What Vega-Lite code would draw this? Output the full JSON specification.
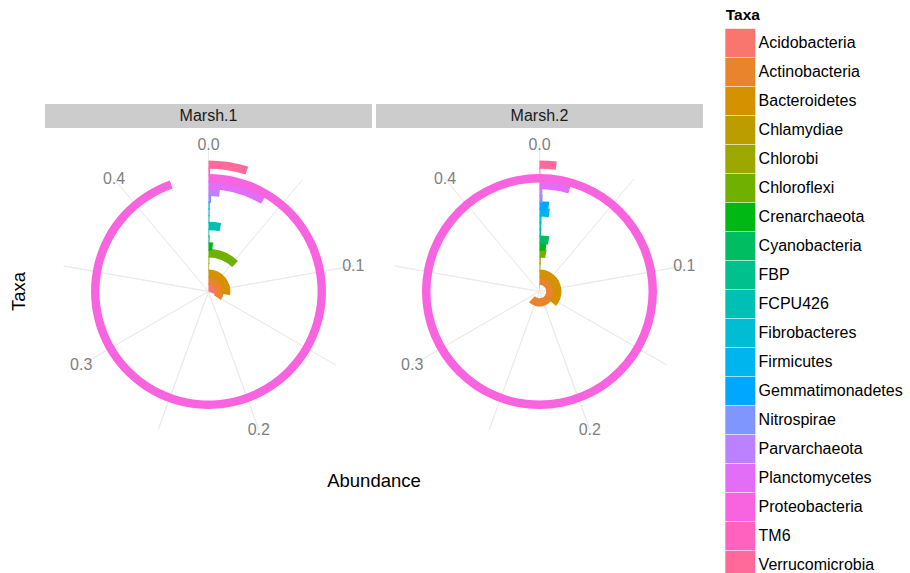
{
  "$schema": "https://vega.github.io/schema/vega-lite/v6.json",
  "autosize": {"type": "pad"},
  "padding": {"left": 9, "top": 8, "right": 0, "bottom": 0},
  "config": {"font": "Liberation Sans", "view": {"stroke": null}},
  "datasets": {
    "taxa": [
      {"Marsh": "Marsh.1", "Taxa": "Acidobacteria", "Abundance": 0.14},
      {"Marsh": "Marsh.1", "Taxa": "Actinobacteria", "Abundance": 0.155},
      {"Marsh": "Marsh.1", "Taxa": "Bacteroidetes", "Abundance": 0.125},
      {"Marsh": "Marsh.1", "Taxa": "Chlamydiae", "Abundance": 0.002},
      {"Marsh": "Marsh.1", "Taxa": "Chlorobi", "Abundance": 0.002},
      {"Marsh": "Marsh.1", "Taxa": "Chloroflexi", "Abundance": 0.055},
      {"Marsh": "Marsh.1", "Taxa": "Crenarchaeota", "Abundance": 0.0066},
      {"Marsh": "Marsh.1", "Taxa": "Cyanobacteria", "Abundance": 0.0015},
      {"Marsh": "Marsh.1", "Taxa": "FBP", "Abundance": 0.001},
      {"Marsh": "Marsh.1", "Taxa": "FCPU426", "Abundance": 0.013},
      {"Marsh": "Marsh.1", "Taxa": "Fibrobacteres", "Abundance": 0.001},
      {"Marsh": "Marsh.1", "Taxa": "Firmicutes", "Abundance": 0.001},
      {"Marsh": "Marsh.1", "Taxa": "Gemmatimonadetes", "Abundance": 0.001},
      {"Marsh": "Marsh.1", "Taxa": "Nitrospirae", "Abundance": 0.002},
      {"Marsh": "Marsh.1", "Taxa": "Parvarchaeota", "Abundance": 0.008},
      {"Marsh": "Marsh.1", "Taxa": "Planctomycetes", "Abundance": 0.0386},
      {"Marsh": "Marsh.1", "Taxa": "Proteobacteria", "Abundance": 0.426},
      {"Marsh": "Marsh.1", "Taxa": "TM6", "Abundance": 0.001},
      {"Marsh": "Marsh.1", "Taxa": "Verrucomicrobia", "Abundance": 0.022},
      {"Marsh": "Marsh.2", "Taxa": "Acidobacteria", "Abundance": 0.0075},
      {"Marsh": "Marsh.2", "Taxa": "Actinobacteria", "Abundance": 0.28},
      {"Marsh": "Marsh.2", "Taxa": "Bacteroidetes", "Abundance": 0.164},
      {"Marsh": "Marsh.2", "Taxa": "Chlamydiae", "Abundance": 0.003},
      {"Marsh": "Marsh.2", "Taxa": "Chlorobi", "Abundance": 0.003},
      {"Marsh": "Marsh.2", "Taxa": "Chloroflexi", "Abundance": 0.012},
      {"Marsh": "Marsh.2", "Taxa": "Crenarchaeota", "Abundance": 0.0104},
      {"Marsh": "Marsh.2", "Taxa": "Cyanobacteria", "Abundance": 0.0127},
      {"Marsh": "Marsh.2", "Taxa": "FBP", "Abundance": 0.002},
      {"Marsh": "Marsh.2", "Taxa": "FCPU426", "Abundance": 0.002},
      {"Marsh": "Marsh.2", "Taxa": "Fibrobacteres", "Abundance": 0.002},
      {"Marsh": "Marsh.2", "Taxa": "Firmicutes", "Abundance": 0.0089},
      {"Marsh": "Marsh.2", "Taxa": "Gemmatimonadetes", "Abundance": 0.0077},
      {"Marsh": "Marsh.2", "Taxa": "Nitrospirae", "Abundance": 0.0023},
      {"Marsh": "Marsh.2", "Taxa": "Parvarchaeota", "Abundance": 0.002},
      {"Marsh": "Marsh.2", "Taxa": "Planctomycetes", "Abundance": 0.0205},
      {"Marsh": "Marsh.2", "Taxa": "Proteobacteria", "Abundance": 0.45},
      {"Marsh": "Marsh.2", "Taxa": "TM6", "Abundance": 0.0005},
      {"Marsh": "Marsh.2", "Taxa": "Verrucomicrobia", "Abundance": 0.0095}
    ],
    "grid": [
      {"v": 0}, {"v": 0.05}, {"v": 0.1}, {"v": 0.15}, {"v": 0.2},
      {"v": 0.25}, {"v": 0.3}, {"v": 0.35}, {"v": 0.4}
    ],
    "ticks": [
      {"v": 0, "label": "0.0"}, {"v": 0.1, "label": "0.1"}, {"v": 0.2, "label": "0.2"},
      {"v": 0.3, "label": "0.3"}, {"v": 0.4, "label": "0.4"}
    ]
  },
  "columns": 2,
  "spacing": {"row": 0, "column": 4},
  "bounds": "flush",
  "concat": [
    {
      "data": {"values": [{"Marsh": "Marsh.1"}]},
      "width": 327, "height": 24,
      "view": {"fill": "#CCCCCC", "stroke": null},
      "mark": {"type": "text", "fontSize": 16, "color": "#1A1A1A"},
      "encoding": {"text": {"field": "Marsh", "type": "nominal"}}
    },
    {
      "data": {"values": [{"Marsh": "Marsh.2"}]},
      "width": 327, "height": 24,
      "view": {"fill": "#CCCCCC", "stroke": null},
      "mark": {"type": "text", "fontSize": 16, "color": "#1A1A1A"},
      "encoding": {"text": {"field": "Marsh", "type": "nominal"}}
    },
    {
      "width": 327, "height": 327,
      "title": {"text": "Taxa", "orient": "left", "anchor": "middle", "frame": "group", "offset": 17, "fontSize": 18.5, "fontWeight": "normal", "color": "#000000"},
      "layer": [
        {
          "data": {"name": "grid"},
          "mark": {"type": "arc", "filled": false, "color": "#EBEBEB", "strokeWidth": 1},
          "encoding": {
            "theta": {"field": "v", "type": "quantitative", "stack": null, "scale": {"domain": [0, 0.45], "nice": false, "zero": true}},
            "theta2": {"field": "v"},
            "radius": {"value": 147},
            "radius2": {"value": 0}
          }
        },
        {
          "data": {"name": "taxa"},
          "transform": [{"filter": "datum.Marsh === 'Marsh.1'"}],
          "mark": {"type": "arc", "radiusOffset": 4.2, "radius2Offset": -4.2},
          "encoding": {
            "theta": {"field": "Abundance", "type": "quantitative", "stack": null, "scale": {"domain": [0, 0.45], "nice": false, "zero": true}},
            "theta2": {"value": 0},
            "radius": {"field": "Taxa", "type": "nominal", "scale": {"type": "point", "padding": 0.6, "range": [0, 131]}},
            "radius2": {"field": "Taxa"},
            "color": {
              "field": "Taxa", "type": "nominal",
              "scale": {
                "domain": ["Acidobacteria", "Actinobacteria", "Bacteroidetes", "Chlamydiae", "Chlorobi", "Chloroflexi", "Crenarchaeota", "Cyanobacteria", "FBP", "FCPU426", "Fibrobacteres", "Firmicutes", "Gemmatimonadetes", "Nitrospirae", "Parvarchaeota", "Planctomycetes", "Proteobacteria", "TM6", "Verrucomicrobia"],
                "range": ["#F8766D", "#E9842C", "#D69100", "#BC9D00", "#9CA700", "#6FB000", "#00B813", "#00BD61", "#00C08E", "#00C0B4", "#00BDD4", "#00B5EE", "#00A7FF", "#7F96FF", "#BC81FF", "#E26EF7", "#F863DF", "#FF62BF", "#FF6A9A"]
              },
              "legend": {
                "title": "Taxa", "orient": "none", "legendX": 680.8, "legendY": -96,
                "symbolType": "M-1.056,-1H1.056V1H-1.056Z", "symbolSize": 807, "symbolStrokeWidth": 0, "symbolOpacity": 1,
                "rowPadding": -9, "labelFontSize": 16, "labelColor": "#000000", "labelOffset": 3.8, "labelLimit": 300,
                "titleFontSize": 15.5, "titleFontWeight": "bold", "titleColor": "#000000", "titlePadding": 5
              }
            }
          }
        },
        {
          "data": {"name": "ticks"},
          "mark": {"type": "text", "fontSize": 16, "color": "#7F7F7F"},
          "encoding": {
            "theta": {"field": "v", "type": "quantitative", "stack": null, "scale": {"domain": [0, 0.45], "nice": false, "zero": true}},
            "radius": {"value": 147},
            "text": {"field": "label", "type": "nominal"}
          }
        }
      ]
    },
    {
      "width": 327, "height": 327,
      "title": {"text": "Abundance", "orient": "bottom", "anchor": "middle", "frame": "group", "offset": 17, "dx": -165.5, "fontSize": 18.5, "fontWeight": "normal", "color": "#000000"},
      "layer": [
        {
          "data": {"name": "grid"},
          "mark": {"type": "arc", "filled": false, "color": "#EBEBEB", "strokeWidth": 1},
          "encoding": {
            "theta": {"field": "v", "type": "quantitative", "stack": null, "scale": {"domain": [0, 0.45], "nice": false, "zero": true}},
            "theta2": {"field": "v"},
            "radius": {"value": 147},
            "radius2": {"value": 0}
          }
        },
        {
          "data": {"name": "taxa"},
          "transform": [{"filter": "datum.Marsh === 'Marsh.2'"}],
          "mark": {"type": "arc", "radiusOffset": 4.2, "radius2Offset": -4.2},
          "encoding": {
            "theta": {"field": "Abundance", "type": "quantitative", "stack": null, "scale": {"domain": [0, 0.45], "nice": false, "zero": true}},
            "theta2": {"value": 0},
            "radius": {"field": "Taxa", "type": "nominal", "scale": {"type": "point", "padding": 0.6, "range": [0, 131]}},
            "radius2": {"field": "Taxa"},
            "color": {"field": "Taxa", "type": "nominal"}
          }
        },
        {
          "data": {"name": "ticks"},
          "mark": {"type": "text", "fontSize": 16, "color": "#7F7F7F"},
          "encoding": {
            "theta": {"field": "v", "type": "quantitative", "stack": null, "scale": {"domain": [0, 0.45], "nice": false, "zero": true}},
            "radius": {"value": 147},
            "text": {"field": "label", "type": "nominal"}
          }
        }
      ]
    }
  ]
}
